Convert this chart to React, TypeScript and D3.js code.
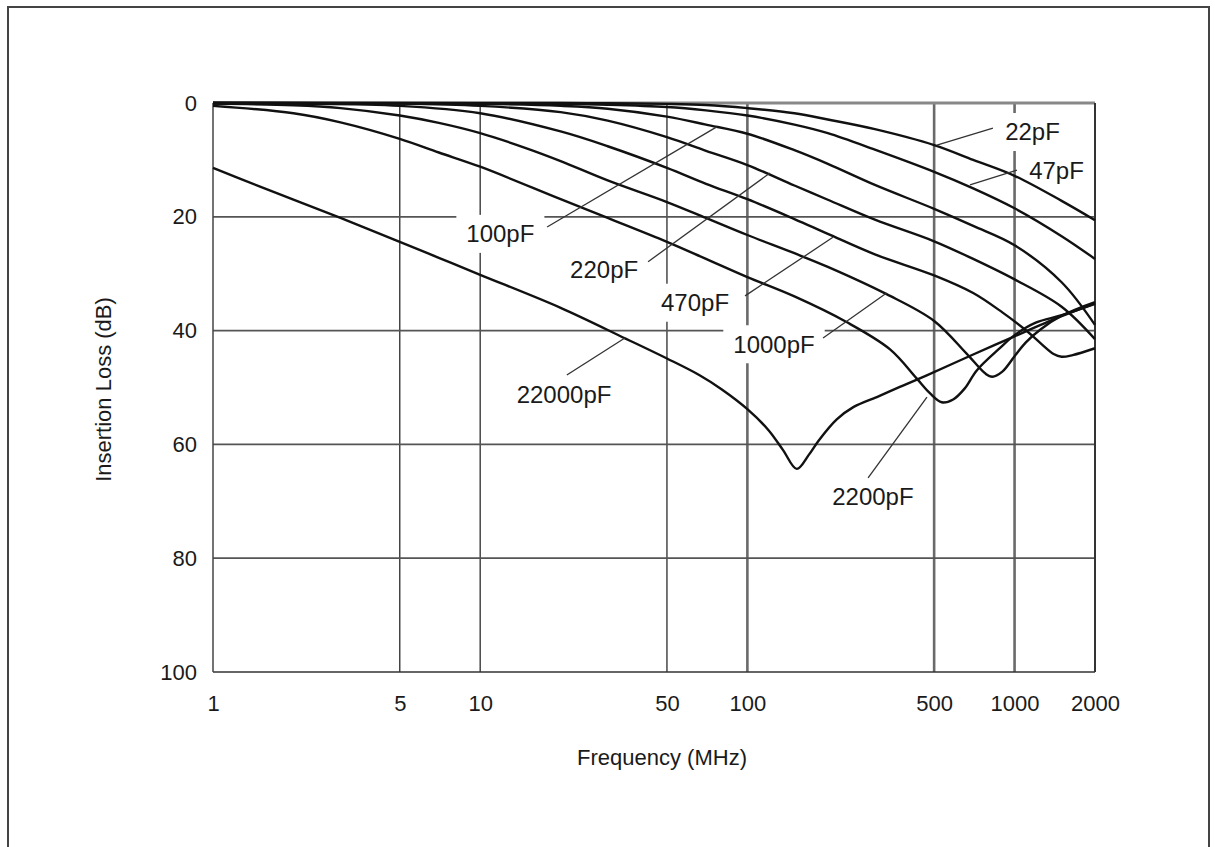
import React from "react";
import * as d3 from "d3";

// [frequency MHz, insertion loss dB]
type Pt = [number, number];

const freqTicks = [1, 5, 10, 50, 100, 500, 1000, 2000];
const lossTicks = [0, 20, 40, 60, 80, 100];
const freqGrid = [5, 10, 50, 100, 500, 1000];
const lossGrid = [20, 40, 60, 80];
const heavyFreqGrid = [100, 500, 1000];

const c22pF: Pt[] = [[1, 0], [10, 0], [20, 0], [30, 0.05], [50, 0.15], [70, 0.35], [100, 0.9], [150, 1.8], [200, 2.9], [300, 4.6], [500, 7.4], [700, 10.0], [1000, 12.8], [1500, 17.2], [2000, 20.6]];
const c47pF: Pt[] = [[1, 0], [10, 0.05], [20, 0.15], [30, 0.3], [50, 0.7], [70, 1.3], [100, 2.2], [150, 3.8], [200, 5.3], [300, 8.2], [500, 12.1], [700, 15.0], [1000, 18.5], [1500, 23.4], [2000, 27.4]];
const c100pF: Pt[] = [[1, 0], [5, 0.05], [10, 0.15], [20, 0.5], [30, 1.0], [50, 2.4], [70, 3.8], [100, 5.4], [150, 8.3], [200, 10.7], [300, 14.4], [500, 18.6], [700, 21.6], [1000, 25.0], [1500, 31.5], [2000, 39.0]];
const c220pF: Pt[] = [[1, 0], [5, 0.1], [10, 0.5], [20, 1.6], [30, 3.1], [50, 6.0], [70, 8.4], [100, 10.9], [150, 14.5], [200, 17.0], [300, 20.5], [500, 24.3], [700, 27.4], [1000, 31.0], [1500, 35.8], [2000, 41.5]];
const c470pF: Pt[] = [[1, 0], [2, 0.1], [5, 0.5], [10, 1.8], [20, 5.0], [30, 7.6], [50, 11.4], [70, 14.2], [100, 16.9], [150, 20.4], [200, 23.0], [300, 26.6], [500, 30.3], [700, 33.4], [900, 36.8], [1100, 39.9], [1250, 42.2], [1400, 44.1], [1500, 44.6], [1650, 44.3], [2000, 43.1]];
const c1000pF: Pt[] = [[1, 0.1], [2, 0.4], [3, 0.9], [5, 2.2], [7, 3.5], [10, 5.3], [15, 8.0], [20, 10.2], [30, 13.6], [50, 17.4], [70, 20.2], [100, 23.2], [150, 26.4], [200, 28.8], [332, 33.6], [500, 38.3], [660, 44.0], [780, 47.6], [825, 48.1], [900, 47.2], [1000, 44.5], [1100, 42.1], [1250, 39.8], [1500, 37.4], [2000, 35.0]];
const c2200pF: Pt[] = [[1, 0.5], [2, 1.8], [3, 3.4], [5, 6.3], [7, 8.7], [10, 11.2], [20, 16.9], [30, 20.2], [50, 24.4], [70, 27.4], [100, 30.6], [150, 34.0], [235, 38.5], [342, 43.3], [430, 48.4], [482, 51.0], [534, 52.6], [589, 52.1], [650, 50.2], [722, 47.0], [885, 43.0], [1000, 40.8], [1200, 38.6], [1500, 37.3], [2000, 35.3]];
const c22000pF: Pt[] = [[1, 11.4], [1.5, 14.7], [2, 17.0], [3, 20.2], [5, 24.4], [7, 27.2], [10, 30.2], [20, 36.0], [35, 41.4], [50, 44.9], [66, 47.8], [80, 50.3], [100, 53.8], [120, 57.5], [136, 61.0], [153, 64.3], [170, 61.8], [185, 59.3], [216, 55.6], [250, 53.4], [311, 51.5], [372, 49.9], [467, 47.9], [700, 44.2], [1000, 41.0], [1475, 37.6], [2000, 35.2]];

const curves = [c22pF, c47pF, c100pF, c220pF, c470pF, c1000pF, c2200pF, c22000pF];

// label centre, leader start (near label) and leader end (on the curve)
const labels: {name: string; at: Pt; from: Pt; to: Pt}[] = [
    {name: "22pF", at: [1167, 5.1], from: [830, 4.4], to: [512, 7.4]},
    {name: "47pF", at: [1435, 11.8], from: [1021, 11.8], to: [681, 14.4]},
    {name: "100pF", at: [11.9, 23.0], from: [17.8, 21.8], to: [76.8, 4.2]},
    {name: "220pF", at: [29.1, 29.2], from: [42.5, 27.9], to: [121.5, 12.3]},
    {name: "470pF", at: [63.7, 35.1], from: [98, 33.9], to: [209, 23.6]},
    {name: "1000pF", at: [125.8, 42.4], from: [192, 41.3], to: [332, 33.4]},
    {name: "2200pF", at: [295, 69.1], from: [283, 65.9], to: [470, 51.7]},
    {name: "22000pF", at: [20.6, 51.3], from: [21.1, 47.8], to: [34.8, 41.3]},
];

const font = "'Liberation Sans', Arial, Helvetica, sans-serif";
const labelSize = 24;

const textWidth = (s: string, size: number) =>
    [...s].reduce((w, c) => w + (c === "F" ? 0.611 : 0.556), 0) * size;

const App = () => {
    const width = 1215;
    const height = 847;
    const plot = {left: 213, right: 1095, top: 103, bottom: 672};

    const xScale = d3.scaleLog().domain([1, 2000]).range([plot.left, plot.right]);
    const yScale = d3.scaleLinear().domain([0, 100]).range([plot.top, plot.bottom]);

    const line = d3
        .line<Pt>()
        .x((d) => xScale(d[0]))
        .y((d) => yScale(d[1]))
        .curve(d3.curveCatmullRom.alpha(0.5));

    const xAxis = d3.axisBottom(xScale).tickValues(freqTicks).tickFormat(d3.format("d")).tickSize(0).tickPadding(23);
    const yAxis = d3.axisLeft(yScale).tickValues(lossTicks).tickFormat(d3.format("d")).tickSize(0).tickPadding(16);

    const styleAxis = (ref: SVGGElement | null, axis: any) => {
        if (!ref) return;
        const g = d3.select(ref);
        g.call(axis);
        g.select(".domain").remove();
        g.attr("font-size", 22).attr("font-family", font);
        g.selectAll("text").attr("fill", "#1a1a1a");
    };

    return (
        <svg width={width} height={height} style={{position: "absolute", left: 0, top: 0, background: "#fff"}}>
            <rect x={8} y={7} width={1201} height={880} fill="#fff" stroke="#444" strokeWidth={2}/>

            {freqGrid.map((f) => (
                <line key={"vx" + f} x1={xScale(f)} x2={xScale(f)} y1={plot.top} y2={plot.bottom}
                      stroke={heavyFreqGrid.includes(f) ? "#6a6a6a" : "#3a3a3a"}
                      strokeWidth={heavyFreqGrid.includes(f) ? 2.6 : 1.4}/>
            ))}
            {lossGrid.map((v) => (
                <line key={"hy" + v} x1={plot.left} x2={plot.right} y1={yScale(v)} y2={yScale(v)}
                      stroke="#555" strokeWidth={1.8}/>
            ))}

            {labels.map((l) => {
                const w = textWidth(l.name, labelSize);
                return (
                    <rect key={"bg" + l.name} x={xScale(l.at[0]) - w / 2 - 10} y={yScale(l.at[1]) - 19}
                          width={w + 20} height={38} fill="#fff"/>
                );
            })}

            <line x1={plot.left} x2={plot.right} y1={plot.top} y2={plot.top} stroke="#888" strokeWidth={3}/>
            <line x1={plot.left} x2={plot.right} y1={plot.bottom} y2={plot.bottom} stroke="#333" strokeWidth={1.5}/>
            <line x1={plot.left} x2={plot.left} y1={plot.top} y2={plot.bottom} stroke="#444" strokeWidth={1.5}/>
            <line x1={plot.right} x2={plot.right} y1={plot.top} y2={plot.bottom} stroke="#333" strokeWidth={2}/>

            <g>
                {curves.map((c, i) => (
                    <path key={"c" + i} d={line(c) ?? ""} fill="none" stroke="#111" strokeWidth={2.4}
                          strokeLinejoin="round"/>
                ))}
            </g>

            {labels.map((l) => (
                <line key={"ld" + l.name} x1={xScale(l.from[0])} y1={yScale(l.from[1])}
                      x2={xScale(l.to[0])} y2={yScale(l.to[1])} stroke="#333" strokeWidth={1.3}/>
            ))}
            {labels.map((l) => (
                <text key={"t" + l.name} x={xScale(l.at[0])} y={yScale(l.at[1])} dy="0.35em"
                      textAnchor="middle" fontFamily={font} fontSize={labelSize} fill="#1a1a1a">
                    {l.name}
                </text>
            ))}

            <g transform={`translate(0,${plot.bottom})`} ref={(ref) => { styleAxis(ref, xAxis); }}/>
            <g transform={`translate(${plot.left},0)`} ref={(ref) => { styleAxis(ref, yAxis); }}/>

            <text x={(plot.left + plot.right) / 2 + 8} y={765} textAnchor="middle" fontFamily={font}
                  fontSize={22} fill="#1a1a1a">Frequency (MHz)</text>
            <text transform={`translate(111,${(plot.top + plot.bottom) / 2 + 2}) rotate(-90)`} textAnchor="middle"
                  fontFamily={font} fontSize={22} fill="#1a1a1a">Insertion Loss (dB)</text>
        </svg>
    );
};

export default App;
